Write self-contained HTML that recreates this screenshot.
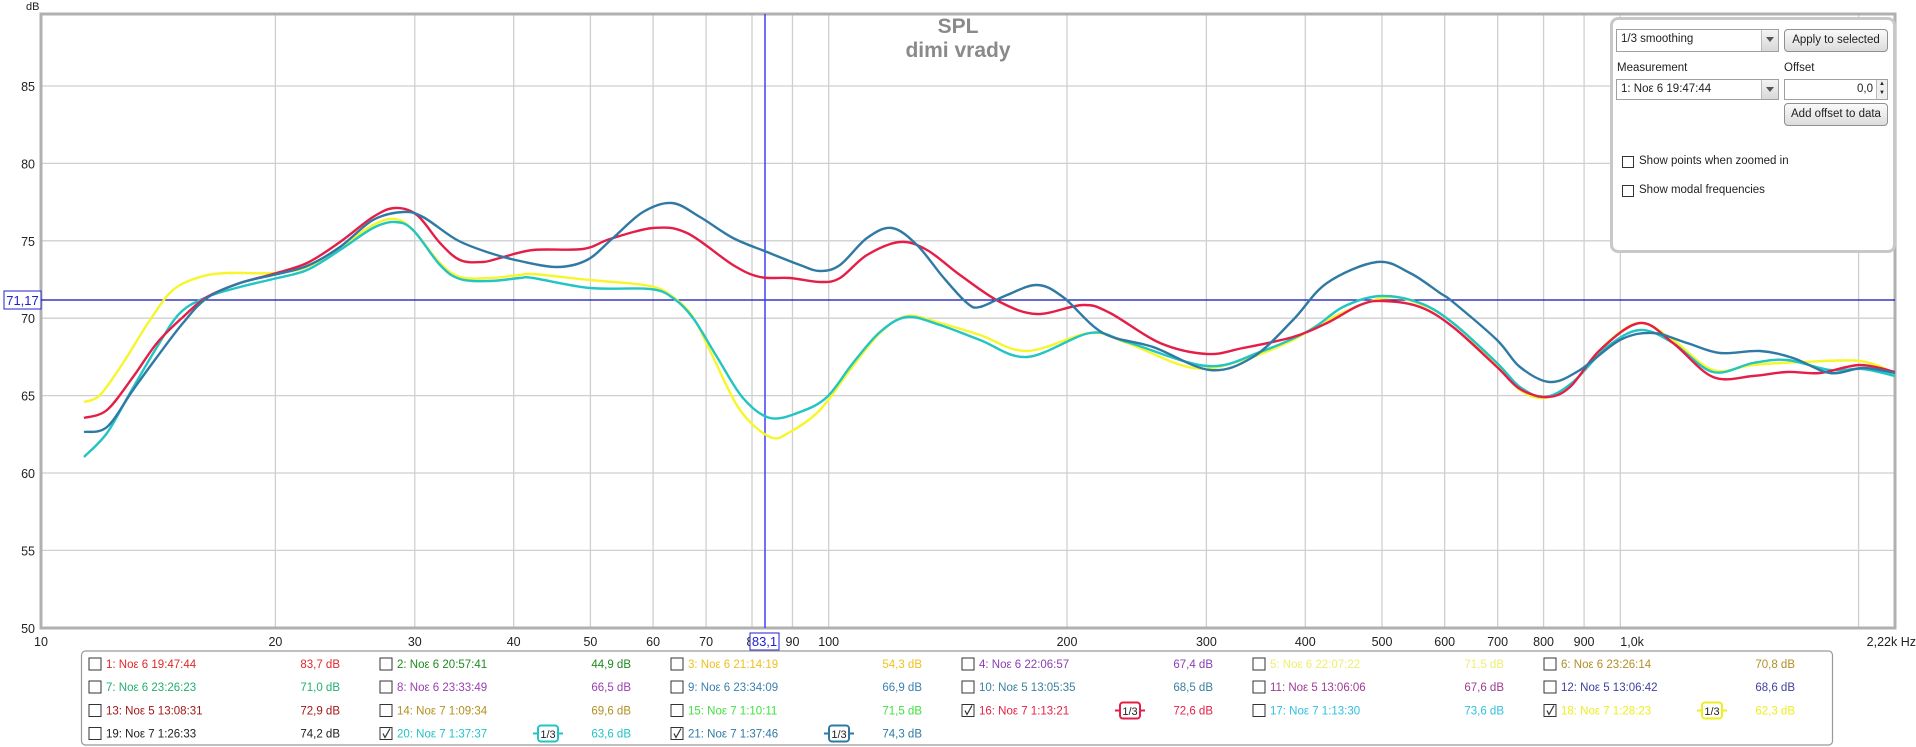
<!DOCTYPE html>
<html><head><meta charset="utf-8">
<style>
html,body{margin:0;padding:0;background:#fff;}
body{width:1916px;height:747px;overflow:hidden;position:relative;font-family:"Liberation Sans",sans-serif;}
svg{position:absolute;left:0;top:0;}
.panel{position:absolute;left:1610px;top:17px;width:280px;height:230px;border:3px solid #c8c8c8;border-radius:8px;background:#fff;font-size:12px;color:#222;}
.dd{position:absolute;height:21px;border:1px solid #a0a0a0;background:#fff;box-sizing:border-box;padding:3px 4px;font-size:11.5px;}
.dd .ar{position:absolute;right:0;top:0;width:16px;height:19px;background:linear-gradient(#f4f4f4,#d8d8d8);border-left:1px solid #bbb;}
.dd .ar:after{content:"";position:absolute;left:4px;top:7px;border-left:4px solid transparent;border-right:4px solid transparent;border-top:5px solid #555;}
.btn{position:absolute;height:22px;border:1px solid #909090;border-radius:4px;background:linear-gradient(#fafafa,#dcdcdc);box-sizing:border-box;text-align:center;font-size:11.5px;line-height:20px;}
.cb{position:absolute;width:12px;height:12px;border:1px solid #333;box-sizing:border-box;background:#fff;}
.lbl{position:absolute;font-size:11.5px;}
</style></head><body>
<svg width="1916" height="747" xmlns="http://www.w3.org/2000/svg" id="s">
<g id="grid" stroke="#cfcfcf" stroke-width="1.3"></g>
<rect x="41" y="14" width="1854" height="614" fill="none" stroke="#b0b0b0" stroke-width="3"/>
<line x1="41" y1="300" x2="1895" y2="300" stroke="#1010b0" stroke-width="1.3"/>
<line x1="765" y1="14" x2="765" y2="628" stroke="#4040ff" stroke-width="1.5"/>
<g id="ticks" font-family="Liberation Sans, sans-serif" font-size="12.5" fill="#222"></g>
<text x="958" y="33" text-anchor="middle" font-family="Liberation Sans, sans-serif" font-size="21" font-weight="bold" fill="#8a8a8a">SPL</text>
<text x="958" y="57" text-anchor="middle" font-family="Liberation Sans, sans-serif" font-size="21" font-weight="bold" fill="#8a8a8a">dimi vrady</text>
<text x="26" y="10" font-family="Liberation Sans, sans-serif" font-size="11" fill="#222">dB</text>
<g fill="none" stroke-width="2.4" stroke-linejoin="round" id="curves"></g>
<rect x="4" y="291" width="37" height="18" fill="#fff" stroke="#2020d0" stroke-width="1"/>
<text x="22.5" y="305" text-anchor="middle" font-family="Liberation Sans, sans-serif" font-size="13" fill="#2020d0">71,17</text>
<rect x="750" y="633" width="29" height="17" fill="#fff" stroke="#2020d0" stroke-width="1"/>
<text x="764.5" y="646" text-anchor="middle" font-family="Liberation Sans, sans-serif" font-size="13" fill="#2020d0">83,1</text>
<rect x="81.5" y="651" width="1751" height="94" rx="4" fill="#fff" stroke="#999" stroke-width="1.2"/>
<g id="legend" font-family="Liberation Sans, sans-serif" font-size="11.5"></g>
</svg>
<div class="panel">
 <div class="dd" style="left:3px;top:9px;width:163px;height:23px;">1/3 smoothing<div class="ar" style="height:21px"></div></div>
 <div class="btn" style="left:171px;top:9px;width:104px;height:23px;line-height:21px;">Apply to selected</div>
 <div class="lbl" style="left:4px;top:42px;">Measurement</div>
 <div class="lbl" style="left:171px;top:42px;">Offset</div>
 <div class="dd" style="left:3px;top:59px;width:163px;">1: Noε 6 19:47:44<div class="ar"></div></div>
 <div class="dd" style="left:171px;top:59px;width:104px;text-align:right;padding-right:14px;">0,0<div style="position:absolute;right:0;top:0;width:10px;height:19px;border-left:1px solid #bbb;background:#eee;font-size:6px;line-height:9px;text-align:center;">▲<br>▼</div></div>
 <div class="btn" style="left:171px;top:83px;width:104px;height:23px;line-height:21px;">Add offset to data</div>
 <div class="cb" style="left:9px;top:136px;"></div><div class="lbl" style="left:26px;top:135px;">Show points when zoomed in</div>
 <div class="cb" style="left:9px;top:165px;"></div><div class="lbl" style="left:26px;top:164px;">Show modal frequencies</div>
</div>
<script>
const NS="http://www.w3.org/2000/svg";
function el(t,a,p,txt){const e=document.createElementNS(NS,t);for(const k in a)e.setAttribute(k,a[k]);if(txt!==undefined)e.textContent=txt;p.appendChild(e);return e;}
const X=f=>37.1+Math.log10(f/10)*791.6, Y=d=>86+(85-d)*15.48;
const g=document.getElementById('grid'),tk=document.getElementById('ticks');
const fs=[20,30,40,50,60,70,80,90,100,200,300,400,500,600,700,800,900,1000,2000];
fs.forEach(f=>el('line',{x1:X(f),y1:14,x2:X(f),y2:628},g));
[85,80,75,70,65,60,55].forEach(d=>el('line',{x1:41,y1:Y(d),x2:1895,y2:Y(d)},g));
[85,80,75,70,65,60,55,50].forEach(d=>el('text',{x:35,y:Y(d)+5,'text-anchor':'end'},tk,String(d)));
const lab={10:'10',20:'20',30:'30',40:'40',50:'50',60:'60',70:'70',80:'8',90:'90',100:'100',200:'200',300:'300',400:'400',500:'500',600:'600',700:'700',800:'800',900:'900',1000:'1,0k'};
for(const f in lab){let x=X(+f);if(f==10)x=41;if(f==80)x=X(80)-2;el('text',{x:x,y:646,'text-anchor':f==1000?'start':'middle'},tk,lab[f]);}
el('text',{x:1916,y:646,'text-anchor':'end'},tk,'2,22k Hz');
const C=document.getElementById('curves');
function path(pts){let d='M'+pts[0][0]+','+pts[0][1];for(let i=0;i<pts.length-1;i++){const p0=pts[i-1]||pts[i],p1=pts[i],p2=pts[i+1],p3=pts[i+2]||p2;const c1=[p1[0]+(p2[0]-p0[0])/6,p1[1]+(p2[1]-p0[1])/6],c2=[p2[0]-(p3[0]-p1[0])/6,p2[1]-(p3[1]-p1[1])/6];d+=` C${c1[0]},${c1[1]} ${c2[0]},${c2[1]} ${p2[0]},${p2[1]}`;}return d;}
const yel=[[84,402],[100,395],[123,363],[150,320],[173,290],[200,277],[227,273],[273,273],[307,267],[340,247],[373,225],[395,219],[413,230],[440,263],[460,277],[490,278],[520,275],[533,274],[590,280],[650,286],[673,297],[693,317],[713,357],[740,410],[770,437],[790,432],[820,410],[850,370],[880,333],[907,316],[940,323],[980,335],[1027,351],[1090,333],[1127,343],[1193,368],[1243,360],[1293,340],[1327,320],[1383,298],[1420,304],[1453,323],[1497,365],[1520,390],[1545,398],[1573,383],[1607,343],[1640,323],[1673,340],[1713,370],[1753,365],[1803,362],[1860,361],[1895,373]];
const cya=[[84,457],[107,433],[130,393],[157,347],[180,313],[207,297],[240,287],[273,279],[307,270],[340,250],[373,228],[395,222],[413,230],[440,265],[460,279],[490,281],[520,278],[533,278],[590,288],[650,289],[673,298],[693,318],[717,357],[743,398],[770,418],[800,412],[827,397],[853,363],[880,332],[907,317],[940,325],[980,340],[1027,357],[1090,333],[1127,342],[1207,366],[1260,352],[1310,330],[1343,307],[1380,296],[1420,303],[1453,323],[1497,363],[1520,387],[1545,397],[1573,382],[1607,347],[1640,330],[1673,343],[1713,372],[1753,363],[1787,360],[1830,370],[1863,369],[1895,376]];
const red=[[84,418],[107,410],[133,377],[157,343],[183,317],[207,297],[240,283],[273,274],[307,263],[340,242],[373,217],[395,208],[417,215],[440,243],[460,260],[483,262],[500,258],[533,250],[583,249],[610,239],[653,228],[687,233],[733,265],[760,277],[790,278],[820,282],[840,278],[867,255],[900,242],[927,250],[960,275],[1000,302],[1037,314],[1083,305],[1110,313],[1160,343],[1207,354],[1243,348],[1293,337],[1327,323],[1360,305],[1383,301],[1420,307],[1453,327],[1497,367],[1520,389],[1547,397],[1570,387],[1600,350],[1640,323],[1673,343],[1713,377],[1753,376],[1787,372],[1820,373],[1860,365],[1895,372]];
const blu=[[84,432],[107,427],[133,390],[157,357],[183,323],[207,298],[240,283],[273,275],[307,266],[340,247],[373,220],[403,212],[423,217],[457,240],[490,253],[520,261],[557,267],[587,260],[613,238],[643,212],[672,203],[700,217],[733,238],[767,252],[800,265],[820,271],[840,265],[867,238],[892,228],[917,245],[943,277],[967,303],[980,307],[1007,295],[1037,285],[1063,297],[1103,333],[1153,347],[1210,370],[1253,357],[1293,320],[1327,283],[1377,262],[1410,273],[1440,293],[1453,302],[1497,340],[1520,367],[1550,382],[1580,370],[1620,340],[1653,333],[1687,343],[1720,353],[1760,351],[1793,358],[1830,373],[1863,368],[1895,373]];
[[yel,'#f6f62a'],[cya,'#22c4c4'],[red,'#e41e46'],[blu,'#2f7aa4']].forEach(([p,c])=>el('path',{d:path(p),stroke:c},C));
const L=document.getElementById('legend');
const rows=[
[['1: Noε 6 19:47:44','83,7 dB','#e02828'],['2: Noε 6 20:57:41','44,9 dB','#1f8a1f'],['3: Noε 6 21:14:19','54,3 dB','#f0c020'],['4: Noε 6 22:06:57','67,4 dB','#8a40b0'],['5: Noε 6 22:07:22','71,5 dB','#eeee70'],['6: Noε 6 23:26:14','70,8 dB','#b08f28']],
[['7: Noε 6 23:26:23','71,0 dB','#22b070'],['8: Noε 6 23:33:49','66,5 dB','#9a40b0'],['9: Noε 6 23:34:09','66,9 dB','#3a80b0'],['10: Noε 5 13:05:35','68,5 dB','#3a80a0'],['11: Noε 5 13:06:06','67,6 dB','#a03a90'],['12: Noε 5 13:06:42','68,6 dB','#4040a0']],
[['13: Noε 5 13:08:31','72,9 dB','#a01818'],['14: Noε 7 1:09:34','69,6 dB','#b09020'],['15: Noε 7 1:10:11','71,5 dB','#40e040'],['16: Noε 7 1:13:21','72,6 dB','#e41e46',1],['17: Noε 7 1:13:30','73,6 dB','#30c0e0'],['18: Noε 7 1:28:23','62,3 dB','#eeee20',1]],
[['19: Noε 7 1:26:33','74,2 dB','#202020'],['20: Noε 7 1:37:37','63,6 dB','#22c4c4',1],['21: Noε 7 1:37:46','74,3 dB','#2f7aa4',1]]];
const ry=[664,687,710.5,733.5];
rows.forEach((r,ri)=>r.forEach((it,ci)=>{const cx=95+ci*291,y=ry[ri];
 el('rect',{x:cx-6,y:y-6,width:12,height:12,fill:'#fff',stroke:'#333','stroke-width':1},L);
 if(it[3]){el('path',{d:`M${cx-3},${y} L${cx-1},${y+4} L${cx+4},${y-5}`,fill:'none',stroke:'#333','stroke-width':1.2},L);
  const bx=cx+162;el('line',{x1:bx-15,y1:y,x2:bx+15,y2:y,stroke:it[2],'stroke-width':2},L);
  el('rect',{x:bx-10,y:y-8,width:20,height:16,rx:3,fill:'#fff',stroke:it[2],'stroke-width':2},L);
  el('text',{x:bx,y:y+4.5,'text-anchor':'middle',fill:'#222','font-size':11},L,'1/3');}
 el('text',{x:cx+11,y:y+4,fill:it[2]},L,it[0]);
 el('text',{x:cx+245,y:y+4,fill:it[2],'text-anchor':'end'},L,it[1]);
}));
</script>
</body></html>
